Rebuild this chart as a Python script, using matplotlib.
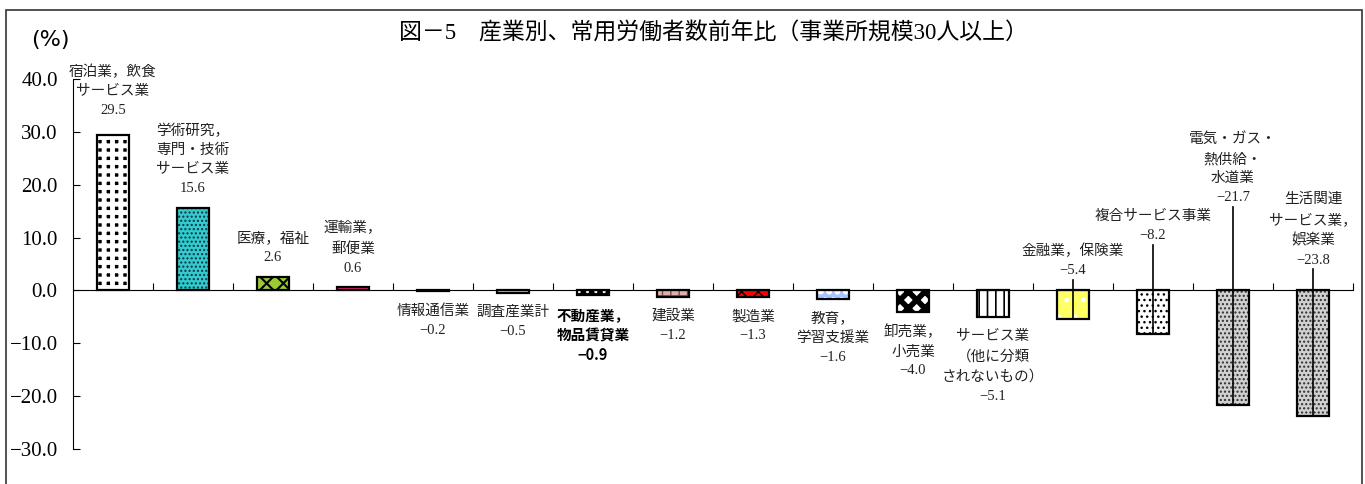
import numpy as np
import matplotlib
matplotlib.use("Agg")
import matplotlib.pyplot as plt
from matplotlib.patches import Rectangle
from matplotlib.ticker import FuncFormatter

# data
names = [
    "宿泊業，飲食\nサービス業",
    "学術研究，\n専門・技術\nサービス業",
    "医療，福祉",
    "運輸業，\n郵便業",
    "情報通信業",
    "調査産業計",
    "不動産業，\n物品賃貸業",
    "建設業",
    "製造業",
    "教育，\n学習支援業",
    "卸売業，\n小売業",
    "サービス業\n（他に分類\nされないもの）",
    "金融業，保険業",
    "複合サービス事業",
    "電気・ガス・\n熱供給・\n水道業",
    "生活関連\nサービス業，\n娯楽業",
]
values = [29.5, 15.6, 2.6, 0.6, -0.2, -0.5, -0.9, -1.2, -1.3, -1.6,
          -4.0, -5.1, -5.4, -8.2, -21.7, -23.8]
yticks = [40, 30, 20, 10, 0, -10, -20, -30]
title = "図－5　産業別、常用労働者数前年比（事業所規模30人以上）"

# styles: face colour, hatch, hatch colour, hatch linewidth
styles = [
    ("black", "++", "white", 3.5),
    ("#33CCCC", "....", "#10304a", 1.0),
    ("#99CC33", "xx", "black", 1.5),
    ("#EE2277", "", "black", 1.0),
    ("black", "", "black", 1.0),
    ("#C5D5E8", "", "black", 1.0),
    ("black", "..", "white", 1.0),
    ("#E0B0B0", "++", "#7a4a4a", 1.0),
    ("#FF0000", "xx", "black", 1.0),
    ("#A8C4FF", "oo", "white", 1.5),
    ("white", "XX", "black", 4.0),
    ("white", "||", "black", 1.2),
    ("#FFFF66", ".", "white", 1.0),
    ("white", "...", "black", 1.0),
    ("#D0D0D0", "....", "#303030", 1.0),
    ("#D0D0D0", "....", "#303030", 1.0),
]
# labels placed at fixed heights (with a leader line down through the bar)
label_y = {0: 32.8, 12: 2.5, 13: 9.1, 14: 16.3, 15: 4.5}
leaders = [12, 13, 14, 15]
bold_idx = 6

serif_jp = ["Liberation Serif", "Noto Sans CJK JP"]
plt.rcParams["hatch.linewidth"] = 1.0

fig = plt.figure(figsize=(13.65, 4.84), dpi=100)
ax = fig.add_axes([73 / 1365, 35 / 484, 1280 / 1365, 370 / 484])
x = np.arange(len(values))

bars = ax.bar(x, values, 0.4, linewidth=0, zorder=2)
for b, (fc, h, hc, hlw) in zip(bars, styles):
    b.set_facecolor(fc)
    b.set_hatch(h)
    b.set_edgecolor(hc)
    if hasattr(b, "set_hatch_linewidth"):
        b.set_hatch_linewidth(hlw)
ax.bar(x, values, 0.4, fill=False, edgecolor="black", linewidth=1.6, zorder=3)

ax.set_xlim(-0.5, 15.5)
ax.set_ylim(-30, 40)
ax.spines["top"].set_visible(False)
ax.spines["right"].set_visible(False)
ax.spines["bottom"].set_position(("data", 0))
ax.spines["bottom"].set_zorder(4)
ax.set_xticks(np.arange(0.5, 16, 1))
ax.tick_params(axis="x", direction="in", length=5, labelbottom=False)
ax.set_yticks(yticks)
ax.yaxis.set_major_formatter(FuncFormatter(lambda v, p: f"{v:.1f}".replace("-", "−")))
ax.tick_params(axis="y", direction="in", length=5, labelsize=15, pad=11)
for t in ax.get_yticklabels():
    t.set_fontfamily("Liberation Serif")

for i, (n, v) in enumerate(zip(names, values)):
    txt = n + "\n" + f"{v:.1f}".replace("-", "−")
    kw = dict(ha="center", fontsize=10.5, linespacing=1.6, color="#222222",
              family=serif_jp, zorder=5)
    if i == bold_idx:
        kw.update(family=["Noto Sans CJK JP", "DejaVu Sans"], weight="bold",
                  color="black", linespacing=1.3)
    if i in label_y:
        ax.text(i, label_y[i], txt, va="bottom", **kw)
        if i in leaders:
            ax.plot([i, i], [v, label_y[i] - 0.5], color="black", lw=1.2, zorder=4)
    elif v >= 0:
        ax.annotate(txt, (i, v), xytext=(0, 9), textcoords="offset points",
                    va="bottom", **kw)
    else:
        ax.annotate(txt, (i, v), xytext=(0, -9), textcoords="offset points",
                    va="top", **kw)

fig.text(713 / 1365, 1 - 33 / 484, title, ha="center", va="center",
         fontsize=16.5, family=serif_jp)
fig.text(50 / 1365, 1 - 40 / 484, "(%)", ha="center", va="center",
         fontsize=16, family="DejaVu Sans")
fig.add_artist(Rectangle((6 / 1365, -0.1), 1356 / 1365, 1.1 - 10 / 484,
                         transform=fig.transFigure, fill=False,
                         edgecolor="#333333", linewidth=1.2))

fig.savefig("out.png", dpi=100)
